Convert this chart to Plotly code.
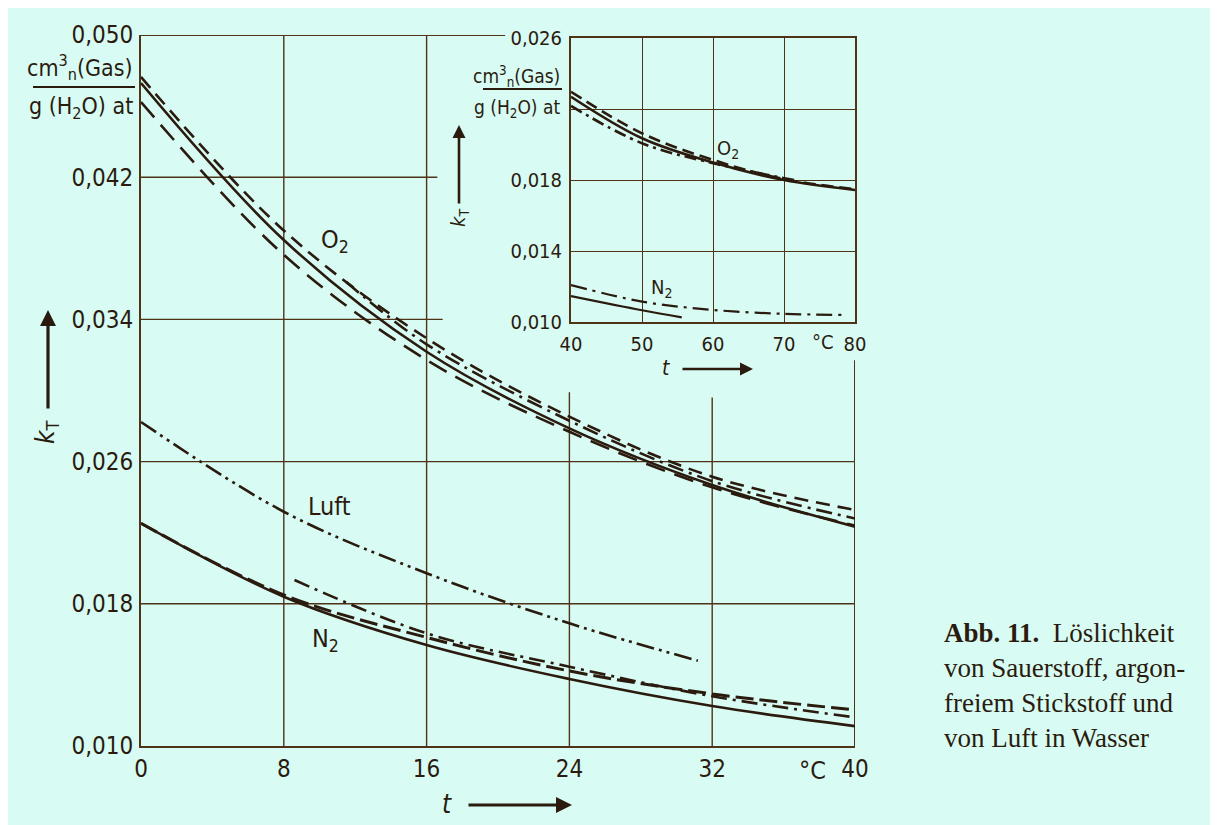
import plotly.graph_objects as go

# ---------------- data ----------------
# main chart, t in °C, k_T in cm3n(Gas)/(g(H2O) at)
o2_t = [0, 8, 16, 24, 32, 40]
o2_solid = [0.0473, 0.03847, 0.03218, 0.02787, 0.02468, 0.02234]
o2_dash = [0.04764, 0.0390, 0.03294, 0.02853, 0.02515, 0.02328]
o2_longdash = [0.04623, 0.03763, 0.03172, 0.02768, 0.02455, 0.0224]
o2_dd_t = [11.5, 16, 24, 32, 40]
o2_dashdot = [0.0361, 0.0326, 0.0283, 0.0249, 0.0228]

luft_t = [0, 8, 16, 24, 31.2]
luft = [0.02823, 0.02318, 0.01972, 0.0169, 0.0148]

n2_t = [0, 8, 16, 24, 32, 40]
n2_solid = [0.02253, 0.0184, 0.01568, 0.01377, 0.01225, 0.01112]
n2_dash = [0.02253, 0.0185, 0.01611, 0.01422, 0.01293, 0.01203]
n2_dd_t = [8.6, 16, 24, 32, 40]
n2_dashdot = [0.01934, 0.01634, 0.01446, 0.0128, 0.01161]

# inset chart
in_o2_t = [40, 50, 60, 70, 80]
in_o2_solid = [0.02269, 0.02035, 0.01898, 0.0180, 0.01744]
in_o2_dash = [0.02297, 0.02063, 0.01913, 0.01805, 0.01748]
in_o2_dd_t = [40, 50, 60, 72]
in_o2_dashdot = [0.02217, 0.02007, 0.01895, 0.01795]
in_n2_dd_t = [40, 50, 60, 70, 78.3]
in_n2_dashdot = [0.01208, 0.01115, 0.01068, 0.01046, 0.0104]
in_n2_s_t = [40, 50, 55.6]
in_n2_solid = [0.01146, 0.01066, 0.01026]

# ticks
main_xticks = [0, 8, 16, 24, 32, 40]
main_xtext = ["0", "8", "16", "24", "32", "40"]
main_yticks = [0.010, 0.018, 0.026, 0.034, 0.042, 0.050]
main_ytext = ["0,010", "0,018", "0,026", "0,034", "0,042", "0,050"]
in_xticks = [40, 50, 60, 70, 80]
in_xtext = ["40", "50", "60", "70", "80"]
in_yticks = [0.010, 0.014, 0.018, 0.022, 0.026]
in_ytext = ["0,010", "0,014", "0,018", " ", "0,026"]

caption = ["<b>Abb. 11.</b>  Löslichkeit", "von Sauerstoff, argon-",
           "freiem Stickstoff und", "von Luft in Wasser"]

# ---------------- style ----------------
BG = "#d8fbf4"
INK = "#2a1b0e"
GRID = "#4e3317"
FONT = "DejaVu Sans Condensed, DejaVu Sans, sans-serif"
SERIF = "Liberation Serif, DejaVu Serif, serif"

W, H = 1218, 825
PAGE_OFF = 8                    # body margin of the page
L, R, T, B = 141, 855, 35, 746  # plot area in page pixels


def px(x):
    return (x - L) / (R - L)


def py(y):
    return (B - y) / (B - T)


fig = go.Figure()


def add(x, y, dash, xa="x", ya="y", width=2.6):
    fig.add_trace(go.Scatter(x=x, y=y, mode="lines", xaxis=xa, yaxis=ya,
                             line=dict(color=INK, width=width, dash=dash,
                                       shape="spline", smoothing=1.0),
                             hoverinfo="skip", showlegend=False))


# main
add(o2_t, o2_solid, "solid")
add(o2_t, o2_dash, "14px,8px")
add(o2_t, o2_longdash, "20px,10px")
add(o2_dd_t, o2_dashdot, "16px,6px,3px,6px")
add(luft_t, luft, "18px,5px,3px,5px,3px,5px")
add(n2_t, n2_solid, "solid")
add(n2_t, n2_dash, "18px,6px", width=3)
add(n2_dd_t, n2_dashdot, "16px,6px,3px,6px")
# inset
add(in_o2_t, in_o2_solid, "solid", "x2", "y2")
add(in_o2_t, in_o2_dash, "12px,6px", "x2", "y2")
add(in_o2_dd_t, in_o2_dashdot, "12px,5px,3px,5px", "x2", "y2")
add(in_n2_dd_t, in_n2_dashdot, "16px,6px,3px,6px", "x2", "y2", width=2.2)
add(in_n2_s_t, in_n2_solid, "solid", "x2", "y2", width=2.2)

# main grid (partly hidden by the inset)
TOP_STOP = 20.4
HGRID_STOP = {0.042: 16.6, 0.034: 16.9}
VGRID_START = {24: 0.0299, 32: 0.0296, 40: 0.0317}
shapes = []
for xv in main_xticks[1:]:
    y1 = VGRID_START.get(xv, main_yticks[-1])
    w = 2 if xv == main_xticks[-1] else 1.4
    shapes.append(dict(type="line", xref="x", yref="y", x0=xv, x1=xv,
                       y0=main_yticks[0], y1=y1, line=dict(color=GRID, width=w),
                       layer="below"))
for yv in main_yticks[1:]:
    if yv == main_yticks[-1]:
        x1, w = TOP_STOP, 2
    else:
        x1, w = HGRID_STOP.get(yv, main_xticks[-1]), 1.4
    shapes.append(dict(type="line", xref="x", yref="y", x0=main_xticks[0], x1=x1,
                       y0=yv, y1=yv, line=dict(color=GRID, width=w), layer="below"))
# fraction bars of unit labels
shapes.append(dict(type="line", xref="paper", yref="paper", x0=px(33), x1=px(135),
                   y0=py(87), y1=py(87), line=dict(color=INK, width=2)))
shapes.append(dict(type="line", xref="paper", yref="paper", x0=px(483), x1=px(562),
                   y0=py(89), y1=py(89), line=dict(color=INK, width=1.8)))

ann = []


def text(x, y, s, size, anchor="center", angle=0, font=FONT, yanchor="middle"):
    ann.append(dict(x=px(x), y=py(y), xref="paper", yref="paper", text=s,
                    showarrow=False, xanchor=anchor, yanchor=yanchor,
                    textangle=angle, font=dict(family=font, size=size, color=INK)))


def arrow(x, y, ax, ay, width=3.2):
    ann.append(dict(x=px(x), y=py(y), xref="paper", yref="paper", text="",
                    showarrow=True, ax=ax, ay=ay, arrowhead=2, arrowsize=1.0,
                    arrowwidth=width, arrowcolor=INK))


# main unit label
text(135, 67, "cm<sup>3</sup><sub>n</sub>(Gas)", 23, anchor="right")
text(135, 108, "g (H<sub>2</sub>O) at", 23, anchor="right")
# main k_T and t
arrow(48, 310, 0, 100)
text(46, 432, "<i>k</i><sub>T</sub>", 26, angle=-90)
text(447, 804, "<i>t</i>", 26)
arrow(572, 805, -105, 0)
text(812, 770, "°C", 25)
# curve labels
text(335, 241, "O<sub>2</sub>", 25)
text(329, 506, "Luft", 25)
text(325, 640, "N<sub>2</sub>", 25)
# inset unit label
text(562, 76, "cm<sup>3</sup><sub>n</sub>(Gas)", 19, anchor="right")
text(562, 108, "g (H<sub>2</sub>O) at", 19, anchor="right")
arrow(459, 125, 0, 80, width=2.6)
text(459, 218, "<i>k</i><sub>T</sub>", 20, angle=-90)
text(666, 368, "<i>t</i>", 21)
arrow(753, 369, -72, 0, width=2.6)
text(823, 342, "°C", 20)
text(728, 149, "O<sub>2</sub>", 20)
text(661, 288, "N<sub>2</sub>", 20)
# caption
for i, line in enumerate(caption):
    text(942, 633 + 35 * i, line, 27, anchor="left", font=SERIF)

fig.update_layout(
    width=W, height=H, autosize=False,
    margin=dict(l=L - PAGE_OFF, r=W + PAGE_OFF - R, t=T - PAGE_OFF,
                b=H + PAGE_OFF - B),
    paper_bgcolor=BG, plot_bgcolor=BG,
    shapes=shapes, annotations=ann, showlegend=False,
    xaxis=dict(domain=[0, 1], range=[main_xticks[0], main_xticks[-1]],
               tickvals=main_xticks, ticktext=main_xtext, showgrid=False,
               zeroline=False, showline=True, linecolor=GRID, linewidth=2,
               ticks="", ticklabelstandoff=0,
               tickfont=dict(family=FONT, size=24, color=INK)),
    yaxis=dict(domain=[0, 1], range=[main_yticks[0], main_yticks[-1]],
               tickvals=main_yticks, ticktext=main_ytext, showgrid=False,
               zeroline=False, showline=True, linecolor=GRID, linewidth=2,
               ticks="", ticklabelstandoff=1,
               tickfont=dict(family=FONT, size=24, color=INK)),
    xaxis2=dict(domain=[px(571), 1], range=[in_xticks[0], in_xticks[-1]],
                anchor="y2", tickvals=in_xticks, ticktext=in_xtext,
                showgrid=True, gridcolor=GRID, gridwidth=1.4, zeroline=False,
                showline=True, mirror=True, linecolor=GRID, linewidth=2,
                ticks="", ticklabelstandoff=3,
                tickfont=dict(family=FONT, size=20, color=INK)),
    yaxis2=dict(domain=[py(322), py(38)], range=[in_yticks[0], in_yticks[-1]],
                anchor="x2", tickvals=in_yticks, ticktext=in_ytext,
                showgrid=True, gridcolor=GRID, gridwidth=1.4, zeroline=False,
                showline=True, mirror=True, linecolor=GRID, linewidth=2,
                ticks="", ticklabelstandoff=3,
                tickfont=dict(family=FONT, size=20, color=INK)),
)

fig.write_html("out.html")
